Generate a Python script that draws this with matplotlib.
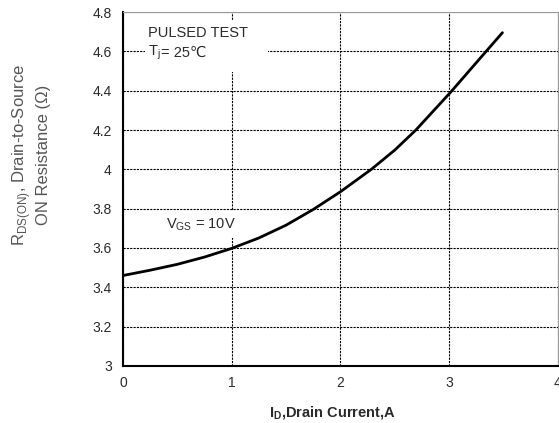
import matplotlib
matplotlib.use("Agg")
import matplotlib.pyplot as plt
from matplotlib.patches import Rectangle

plt.rcParams['font.family'] = ['Liberation Sans', 'DejaVu Sans']

current = [0, 0.25, 0.5, 0.75, 1.0, 1.25, 1.5, 1.75, 2.0, 2.284, 2.5, 2.694, 3.018, 3.345, 3.49]
resistance = [3.46, 3.487, 3.517, 3.554, 3.598, 3.651, 3.716, 3.796, 3.886, 4.0, 4.098, 4.2, 4.395, 4.603, 4.695]
xticks = [0, 1, 2, 3, 4]
yticks = [3, 3.2, 3.4, 3.6, 3.8, 4, 4.2, 4.4, 4.6, 4.8]
ytick_labels = ['3', '3.2', '3.4', '3.6', '3.8', '4', '4.2', '4.4', '4.6', '4.8']

fig = plt.figure(figsize=(5.59, 4.23), dpi=100)
ax = fig.add_axes([0.22, 0.1348, 0.778, 0.8368])

ax.set_xlim(0, 4)
ax.set_ylim(3, 4.8)
ax.set_xticks(xticks)
ax.set_xticklabels([str(t) for t in xticks])
ax.set_yticks(yticks)
ax.set_yticklabels(ytick_labels)
ax.tick_params(length=0, labelsize=10, colors='#2a2a2a')
ax.tick_params(axis='x', pad=7)
ax.tick_params(axis='y', pad=8)

ax.grid(True, color='black', linestyle=(0, (2, 1)), linewidth=0.8, zorder=1)
ax.set_axisbelow(True)

for s in ['left', 'bottom']:
    ax.spines[s].set_color('black')
    ax.spines[s].set_linewidth(1.5)
for s in ['top', 'right']:
    ax.spines[s].set_color('#999999')
    ax.spines[s].set_linewidth(0.8)

ax.plot(current, resistance, color='black', linewidth=2, zorder=4,
        solid_capstyle='round', solid_joinstyle='round')

# white boxes behind annotations (they interrupt the grid in the reference)
ax.add_patch(Rectangle((0.05, 0.83), 0.283, 0.147, transform=ax.transAxes,
                       facecolor='white', edgecolor='none', zorder=2))
ax.add_patch(Rectangle((0.085, 0.362), 0.195, 0.076, transform=ax.transAxes,
                       facecolor='white', edgecolor='none', zorder=2))

ax.text(0.057, 0.94, 'PULSED TEST', transform=ax.transAxes, fontsize=10.5,
        color='#2a2a2a', va='center', ha='left', zorder=5)
ax.text(0.057, 0.885, r'T$_\mathregular{j}$', transform=ax.transAxes, fontsize=10.5,
        color='#2a2a2a', va='center', ha='left', zorder=5)
ax.text(0.087, 0.885, '= 25℃', transform=ax.transAxes, fontsize=10.5,
        color='#2a2a2a', va='center', ha='left', zorder=5,
        family=['Liberation Sans', 'DejaVu Sans'])
ax.text(0.18, 0.398, r'V$_\mathregular{GS}$ = 10V', transform=ax.transAxes, fontsize=10.5,
        color='#2a2a2a', va='center', ha='center', zorder=5)

fig.text(0.055, 0.634, r'R$_\mathregular{DS(ON)}$, Drain-to-Source' + '\nON Resistance (Ω)',
         rotation=90, ha='center', va='center', fontsize=12, color='#555555',
         linespacing=1.2)
fig.text(0.594, 0.024, r'I$_\mathregular{D}$,Drain Current,A', ha='center', va='center',
         fontsize=10.5, fontweight='bold', color='#2a2a2a')

fig.savefig('out.png', dpi=100)
